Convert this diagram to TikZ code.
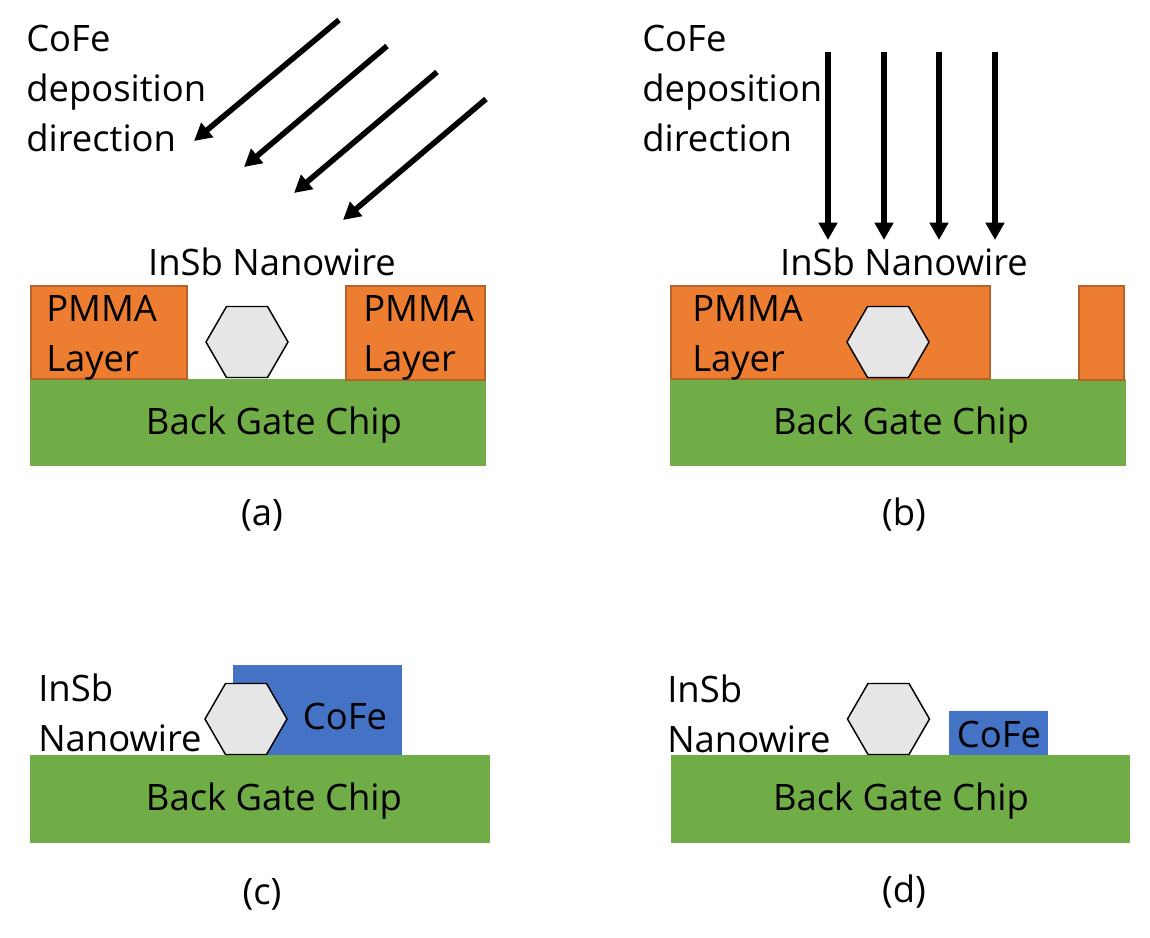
\documentclass[tikz,border=0pt]{standalone}
\usepackage{fontspec}
\setmainfont{Open Sans}
\usetikzlibrary{positioning,shapes.geometric,arrows.meta}

\definecolor{pmmaorange}{HTML}{ED7D31}
\definecolor{pmmaedge}{HTML}{B5622A}
\definecolor{chipgreen}{HTML}{70AD47}
\definecolor{cofeblue}{HTML}{4472C4}
\definecolor{wiregray}{HTML}{E7E6E6}

\begin{document}
\begin{tikzpicture}[
  x=0.75pt, y=-0.75pt,
  txt/.style={inner sep=0pt, font=\fontsize{27.3}{37.5}\selectfont, anchor=base},
  multi/.style={inner sep=0pt, font=\fontsize{27.3}{37.5}\selectfont, anchor=north west, align=left},
  chip/.style={fill=chipgreen},
  pmma/.style={fill=pmmaorange, draw=pmmaedge, line width=1.2pt},
  cofe/.style={fill=cofeblue},
  wire/.style={draw, fill=wiregray, regular polygon, regular polygon sides=6,
    minimum size=61.5pt, inner sep=0pt, line width=1.1pt},
  depo/.style={-{Triangle[length=13pt,width=13.5pt]}, line width=4.2pt}
]

\useasboundingbox (0,0) rectangle (1150,938);

% panel a
\fill[chip] (30,379) rectangle (486,466);
\draw[pmma] (31,286) rectangle (187,379);
\draw[pmma] (346,286) rectangle (485,380);
\node[wire] (wirea) at (247,342) {};
\node[multi] (deptexta) at (26,25) {CoFe\\deposition\\direction};
\node[txt] (insba) at (272,276) {InSb Nanowire};
\node[multi] (pmmaa) at (46,295) {PMMA\\Layer};
\node[multi] (pmmab) at (363,295) {PMMA\\Layer};
\node[txt] (chipa) at (274,434) {Back Gate Chip};
\node[txt] (capa) at (262,525) {(a)};

\coordinate (a1s) at (339,20);  \coordinate (a1e) at (194,141);
\coordinate (a2s) at (387,46);  \coordinate (a2e) at (244,167);
\coordinate (a3s) at (437,72);  \coordinate (a3e) at (294,193);
\coordinate (a4s) at (486,99);  \coordinate (a4e) at (343,220);
\path
(a1s) edge[depo] (a1e)
(a2s) edge[depo] (a2e)
(a3s) edge[depo] (a3e)
(a4s) edge[depo] (a4e)
;

% panel b
\fill[chip] (670,379) rectangle (1126,466);
\draw[pmma] (671,286) rectangle (990,379);
\draw[pmma] (1079,286) rectangle (1124,380);
\node[wire] (wireb) at (888,342) {};
\node[multi] (deptextb) at (642,25) {CoFe\\deposition\\direction};
\node[txt] (insbb) at (904,276) {InSb Nanowire};
\node[multi] (pmmac) at (692,295) {PMMA\\Layer};
\node[txt] (chipb) at (901,434) {Back Gate Chip};
\node[txt] (capb) at (904,525) {(b)};

\coordinate (b1s) at (828,52);  \coordinate (b1e) at (828,240);
\coordinate (b2s) at (884,52);  \coordinate (b2e) at (884,240);
\coordinate (b3s) at (939,52);  \coordinate (b3e) at (939,240);
\coordinate (b4s) at (995,52);  \coordinate (b4e) at (995,240);
\path
(b1s) edge[depo] (b1e)
(b2s) edge[depo] (b2e)
(b3s) edge[depo] (b3e)
(b4s) edge[depo] (b4e)
;

% panel c
\fill[chip] (30,755) rectangle (490,843);
\fill[cofe] (233,665) rectangle (402,755);
\node[wire] (wirec) at (246,719) {};
\node[multi] (insbc) at (38,674) {InSb\\Nanowire};
\node[txt] (cofec) at (345,729) {CoFe};
\node[txt] (chipc) at (274,810) {Back Gate Chip};
\node[txt] (capc) at (262,904) {(c)};

% panel d
\fill[chip] (671,755) rectangle (1130,843);
\fill[cofe] (949,711) rectangle (1048,755);
\node[wire] (wired) at (888.5,719) {};
\node[multi] (insbd) at (667,675) {InSb\\Nanowire};
\node[txt] (cofed) at (999,747) {CoFe};
\node[txt] (chipd) at (901,810) {Back Gate Chip};
\node[txt] (capd) at (904,902) {(d)};

\end{tikzpicture}
\end{document}
